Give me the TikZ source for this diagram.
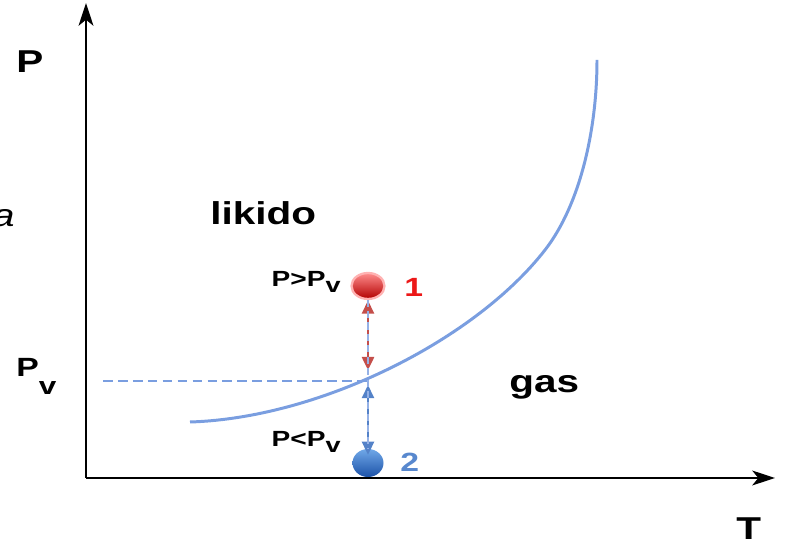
\documentclass[tikz,border=0pt]{standalone}
\usepackage{graphicx}
\usepackage{fontspec}
\setmainfont{Liberation Sans}
\usepackage{tikz}
\usetikzlibrary{positioning, arrows.meta, shapes.geometric}
\definecolor{curveblue}{RGB}{122,158,224}
\definecolor{arrowred}{RGB}{196,78,74}
\definecolor{arrowblue}{RGB}{84,130,200}
\definecolor{numred}{RGB}{236,24,24}
\definecolor{numblue}{RGB}{88,136,206}
\definecolor{balltop}{RGB}{112,168,232}
\definecolor{ballbot}{RGB}{28,82,168}
\newcommand{\wide}[1]{\scalebox{1.28}[1]{#1}}
\newcommand{\lowv}[2]{\raisebox{-#1}{\fontsize{#2}{#2}\selectfont v}}

\begin{document}
\begin{tikzpicture}[x=0.02cm, y=-0.02cm,
    axis/.style={line width=0.8pt, -{Stealth[length=13pt, width=8.5pt, inset=3.5pt]}},
    txt/.style={inner sep=0pt, font=\bfseries\fontsize{18}{20}\selectfont},
    ball/.style={ellipse, inner sep=0pt},
    dbl/.style={line width=1pt, {Triangle[length=7.5pt, width=7pt]}-{Triangle[length=7.5pt, width=7pt]}}]
    \useasboundingbox (0,0) rectangle (785,546);

    % assi
    \coordinate (O) at (86,478);
    \coordinate (Ptop) at (86,3);
    \coordinate (Tend) at (775,478);
    \draw[axis] (O) -- (Ptop);
    \draw[axis] (O) -- (Tend);
    \node[txt, anchor=base west] (lblP) at (16,73) {\wide{P}};
    \node[txt, anchor=base west] (lblT) at (736,540) {\wide{T}};
    \node[txt, anchor=base west, font=\bfseries\fontsize{15}{18}\selectfont] (lblPv) at (16,377) {\wide{P\lowv{10pt}{14}}};
    \node[inner sep=0pt, anchor=base east, font=\itshape\fontsize{18}{20}\selectfont] (lbla) at (15,227) {\wide{a}};

    % curva di vapore
    \draw[curveblue, line width=1.7pt] (190,422) .. controls (320,418) and (475,340) .. (545,250)
        .. controls (580,205) and (597,130) .. (597,60);
    \coordinate (X) at (368,381);
    \coordinate (Xl) at (103,381);
    \draw[curveblue, line width=1.2pt, dash pattern=on 5.5pt off 3pt] (Xl) -- (X);

    \node[txt] (liq) at (210,225) [anchor=base west] {\wide{likido}};
    \node[txt] (gas) at (509,393) [anchor=base west] {\wide{gas}};

    % punti 1 e 2
    \node[ball, draw=red!30, line width=1.3pt, top color=red!45!white, bottom color=red!70!black, minimum width=33pt, minimum height=26pt, scale=0.02cm/1pt] (hiP) at (368,286) {};
    \node[ball, top color=balltop, bottom color=ballbot, minimum width=31pt, minimum height=28pt, scale=0.02cm/1pt] (loP) at (368,463) {};
    \node[txt, anchor=base east, font=\bfseries\fontsize{12.5}{14}\selectfont] (gt) at (341,287) {\wide{P>P\lowv{3.4pt}{12}}};
    \node[txt, anchor=base east, font=\bfseries\fontsize{12.5}{14}\selectfont] (lt) at (341,447) {\wide{P<P\lowv{3.4pt}{12}}};
    \node[txt, anchor=base west, font=\bfseries\fontsize{15}{18}\selectfont, numred] (one) at (404,297) {\wide{1}};
    \node[txt, anchor=base west, font=\bfseries\fontsize{15}{18}\selectfont, numblue] (two) at (400,472) {\wide{2}};

    % frecce
    \draw[dbl, arrowred, shorten <=0.5pt] (hiP.south) -- ([yshift=6.2pt]X);
    \draw[dbl, arrowblue] ([yshift=-2.3pt]X) -- ([yshift=-3.4pt]loP.north);
    \draw[curveblue!80, line width=0.9pt, dash pattern=on 4pt off 2.5pt] (hiP.south) -- (loP.north);
\end{tikzpicture}
\end{document}
